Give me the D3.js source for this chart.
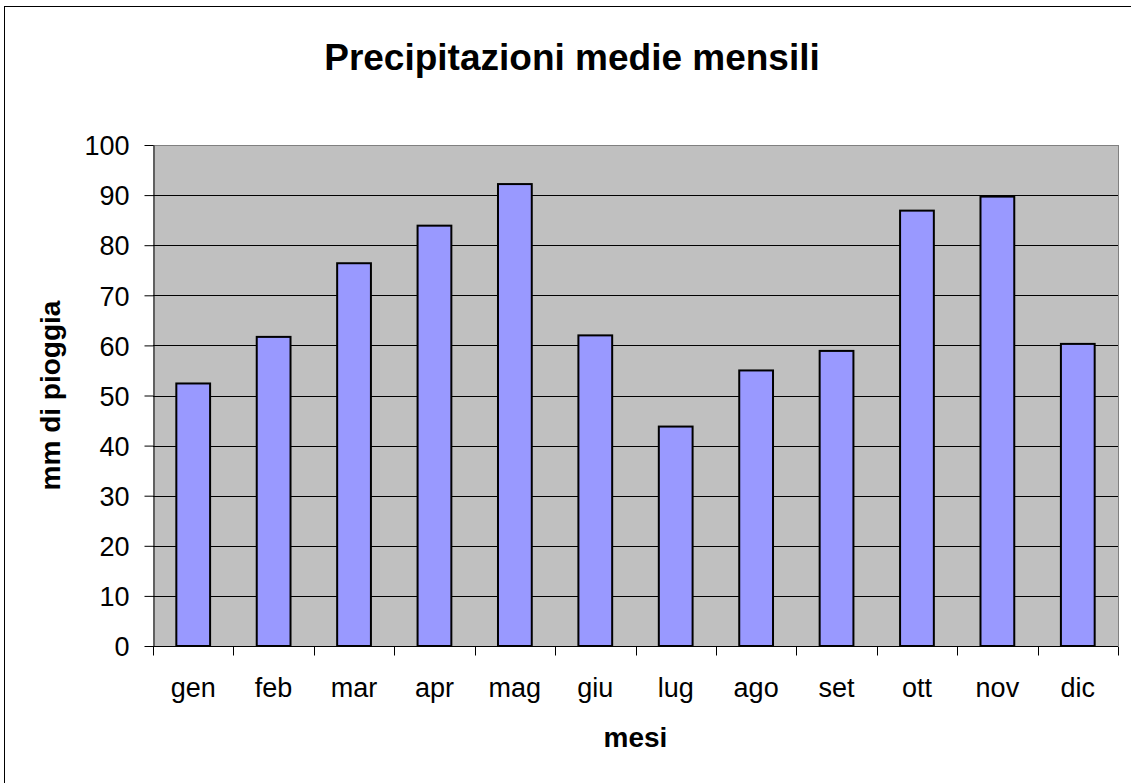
<!DOCTYPE html>
<html>
<head>
<meta charset="utf-8">
<script src="https://cdn.jsdelivr.net/npm/d3@7"></script>
<style>
  body { margin: 0; background: #fff; }
  svg text { font-family: "Liberation Sans", Arial, sans-serif; fill: #000; }
</style>
</head>
<body>
<div id="chart"></div>
<script>
// Dati: precipitazioni medie mensili (mm)
var mesi = ['gen', 'feb', 'mar', 'apr', 'mag', 'giu', 'lug', 'ago', 'set', 'ott', 'nov', 'dic'];
var pioggia = [52.4, 61.7, 76.4, 83.9, 92.2, 62.0, 43.8, 55.0, 58.9, 86.9, 89.7, 60.3];
var yTicks = [0, 10, 20, 30, 40, 50, 60, 70, 80, 90, 100];

var width = 1131,
  height = 783;

// plot area
var plotLeft = 153, plotRight = 1118, plotTop = 145, plotBottom = 646;

var svg = d3.select('#chart')
  .append('svg')
  .attr('width', width)
  .attr('height', height);

// outer chart border (right/bottom fall outside the picture)
svg.append('rect')
  .attr('x', 4.5)
  .attr('y', 6.5)
  .attr('width', width)
  .attr('height', height)
  .attr('fill', 'none')
  .attr('stroke', '#000')
  .attr('stroke-width', 1);

// scales
var x = d3.scaleBand()
  .domain(mesi)
  .range([plotLeft, plotRight])
  .paddingInner(0.58)
  .paddingOuter(0.29);

var xCat = d3.scaleBand()
  .domain(mesi)
  .range([plotLeft, plotRight])
  .padding(0);

var y = d3.scaleLinear()
  .domain([0, 100])
  .range([plotBottom, plotTop]);

// plot background
svg.append('rect')
  .attr('x', plotLeft)
  .attr('y', plotTop)
  .attr('width', plotRight - plotLeft)
  .attr('height', plotBottom - plotTop)
  .attr('fill', '#c0c0c0');

// gridlines
svg.append('g')
  .selectAll('line')
  .data(yTicks.filter(function(d) { return d > 0; }))
  .enter()
  .append('line')
  .attr('x1', plotLeft)
  .attr('x2', plotRight)
  .attr('y1', function(d) { return Math.round(y(d)) + 0.5; })
  .attr('y2', function(d) { return Math.round(y(d)) + 0.5; })
  .attr('stroke', function(d) { return d === 100 ? '#808080' : '#000'; })
  .attr('stroke-width', 1);

// right border of plot
svg.append('line')
  .attr('x1', plotRight + 0.5)
  .attr('x2', plotRight + 0.5)
  .attr('y1', plotTop)
  .attr('y2', plotBottom)
  .attr('stroke', '#808080');

// bars
svg.append('g')
  .selectAll('rect')
  .data(pioggia)
  .enter()
  .append('rect')
  .attr('x', function(d, i) { return x(mesi[i]); })
  .attr('y', function(d) { return y(d); })
  .attr('width', x.bandwidth())
  .attr('height', function(d) { return y(0) - y(d); })
  .attr('fill', '#9999ff')
  .attr('stroke', '#000')
  .attr('stroke-width', 2);

// y axis
var yAxis = svg.append('g')
  .attr('transform', 'translate(' + (plotLeft + 0.5) + ',0)')
  .call(d3.axisLeft(y).tickValues(yTicks).tickSize(9).tickPadding(15).tickSizeOuter(0));
yAxis.selectAll('text')
  .style('font-size', '27px')
  .attr('dy', '0.36em');
yAxis.select('.domain').attr('stroke', '#000');

// x axis: ticks at category boundaries
var xAxis = svg.append('g')
  .attr('transform', 'translate(0,' + (plotBottom + 0.5) + ')');
xAxis.append('line')
  .attr('x1', plotLeft)
  .attr('x2', plotRight)
  .attr('stroke', '#000');
xAxis.selectAll('.tick')
  .data(mesi.concat(['end']))
  .enter()
  .append('line')
  .attr('class', 'tick')
  .attr('x1', function(d, i) { return Math.round(plotLeft + i * xCat.step()) + 0.5; })
  .attr('x2', function(d, i) { return Math.round(plotLeft + i * xCat.step()) + 0.5; })
  .attr('y1', 0)
  .attr('y2', 9)
  .attr('stroke', '#000');
xAxis.selectAll('text')
  .data(mesi)
  .enter()
  .append('text')
  .attr('x', function(d) { return xCat(d) + xCat.bandwidth() / 2; })
  .attr('y', 50)
  .attr('text-anchor', 'middle')
  .style('font-size', '27px')
  .text(function(d) { return d; });

// titles
svg.append('text')
  .attr('x', 572)
  .attr('y', 70)
  .attr('text-anchor', 'middle')
  .style('font-size', '37px')
  .style('font-weight', 'bold')
  .text('Precipitazioni medie mensili');

svg.append('text')
  .attr('x', (plotLeft + plotRight) / 2)
  .attr('y', 747)
  .attr('text-anchor', 'middle')
  .style('font-size', '28px')
  .style('font-weight', 'bold')
  .text('mesi');

svg.append('text')
  .attr('transform', 'translate(60,' + ((plotTop + plotBottom) / 2) + ') rotate(-90)')
  .attr('text-anchor', 'middle')
  .style('font-size', '28px')
  .style('font-weight', 'bold')
  .text('mm di pioggia');
</script>
</body>
</html>
